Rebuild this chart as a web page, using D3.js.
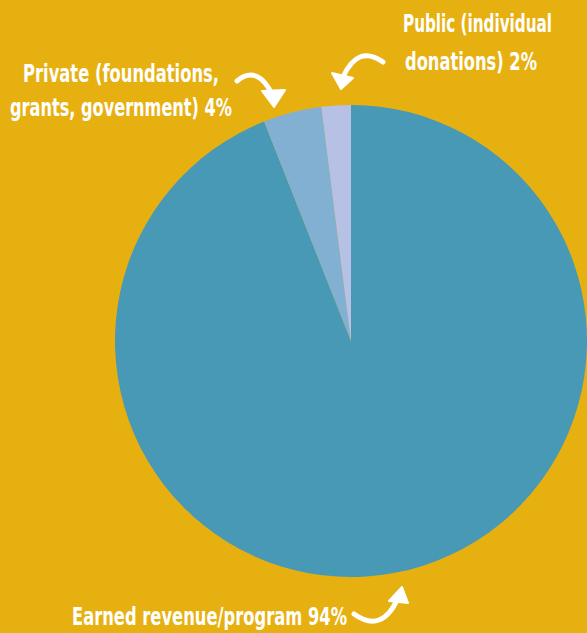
<!DOCTYPE html>
<html><head><meta charset="utf-8">
<script src="https://cdn.jsdelivr.net/npm/d3@7"></script>
<style>html,body{margin:0;padding:0;background:#E7B011;}svg{display:block;}</style>
</head><body>
<script>
const categories = ["Earned revenue/program", "Private (foundations, grants, government)", "Public (individual donations)"];
const values = [94, 4, 2];
const colors = ["#4799B6", "#82B0D3", "#B7C1E5"];

const W = 587, H = 633;
const svg = d3.select("body").append("svg").attr("width", W).attr("height", H);
svg.append("rect").attr("width", W).attr("height", H).attr("fill", "#E7B011");

const cx = 351, cy = 341, R = 236;
const pie = d3.pie().sort(null).value(d => d.v);
const arcs = pie(categories.map((c, i) => ({c, v: values[i], col: colors[i]})));
const arc = d3.arc().innerRadius(0).outerRadius(R);
svg.append("g").attr("transform", `translate(${cx},${cy})`)
  .selectAll("path").data(arcs).join("path")
  .attr("d", arc).attr("fill", d => d.data.col);

const font = "'DejaVu Sans Condensed', 'Liberation Sans Narrow', sans-serif";
const labels = [
  {lines: ["Earned revenue/program 94%"], x: [72], y: [625], w: [275]},
  {lines: ["Private (foundations,", "grants, government) 4%"], x: [23, 10], y: [82, 116], w: [196, 222]},
  {lines: ["Public (individual", "donations) 2%"], x: [403, 405], y: [32, 70], w: [149, 132]}
];
labels.forEach(l => {
  l.lines.forEach((t, i) => {
    svg.append("text").attr("x", l.x[i]).attr("y", l.y[i])
      .attr("fill", "#fff").attr("font-family", font).attr("font-size", 25)
      .attr("font-weight", "bold")
      .attr("textLength", l.w[i]).attr("lengthAdjust", "spacingAndGlyphs")
      .text(t);
  });
});

// curved arrows
const arrows = [
  {d: "M237,81 Q258,64 273,96", head: [[262,91],[285,90],[274,107]]},
  {d: "M383,62 Q358,44 343,77", head: [[332,73],[353,78],[341,89]]},
  {d: "M354,614 Q382,634 398,598", head: [[389,601],[408,603],[402,587]]}
];
arrows.forEach(a => {
  svg.append("path").attr("d", a.d).attr("fill", "none").attr("stroke", "#fff")
    .attr("stroke-width", 5).attr("stroke-linecap", "round");
  svg.append("path").attr("d", "M" + a.head.map(p => p.join(",")).join("L") + "Z")
    .attr("fill", "#fff").attr("stroke", "#fff").attr("stroke-width", 2).attr("stroke-linejoin", "round");
});
</script>
</body></html>
